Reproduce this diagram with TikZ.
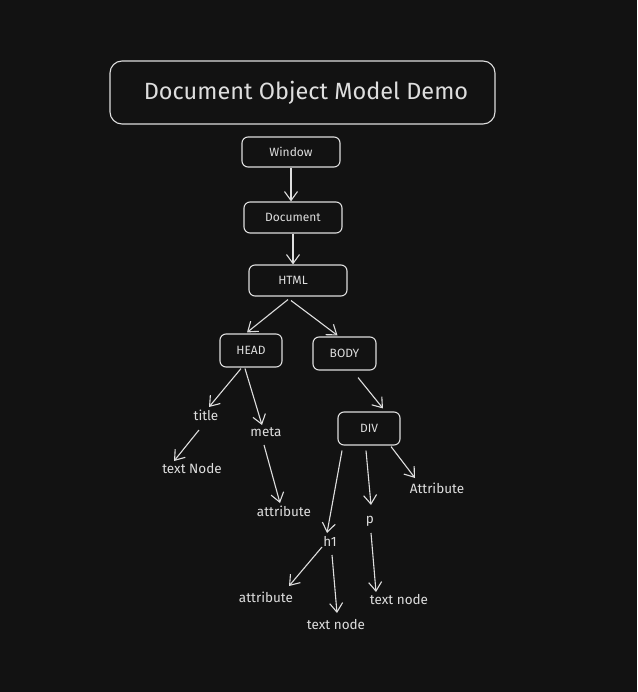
\documentclass[tikz,border=0pt]{standalone}
\usepackage{fontspec}
\setmainfont{Fira Sans}
\usetikzlibrary{arrows.meta}
\definecolor{bg}{HTML}{121212}
\definecolor{ink}{HTML}{DEDEDE}
\begin{document}
\begin{tikzpicture}[x=1pt,y=-1pt,
  box/.style={draw=ink,line width=1.1pt,rounded corners=6pt,text=ink,inner sep=0pt,font=\fontsize{12}{14}\selectfont},
  lbl/.style={text=ink,inner sep=1pt,font=\fontsize{13.5}{16}\selectfont},
  arr/.style={draw=ink,line width=1.1pt,-{Straight Barb[length=9pt,width=13pt,line width=1.1pt]}}]
\fill[bg] (0,0) rectangle (637,692);
\useasboundingbox (0,0) rectangle (637,692);
\node[box,rounded corners=12pt,minimum width=385pt,minimum height=63pt,font=\fontsize{23.5}{28}\selectfont] (main) at (302.5,92.5) {\raisebox{4pt}{\kern7pt Document Object Model Demo}};
\node[box,minimum width=98pt,minimum height=30pt] (window) at (291,152) {Window};
\node[box,minimum width=98pt,minimum height=31pt] (document) at (293,217.5) {Document};
\node[box,minimum width=98pt,minimum height=31pt] (html) at (298,280.5) {\kern-10pt HTML};
\node[box,minimum width=62pt,minimum height=33pt] (head) at (251,350.5) {HEAD};
\node[box,minimum width=63pt,minimum height=33pt] (body) at (344.5,353.5) {BODY};
\node[box,minimum width=62pt,minimum height=33pt] (div) at (369,428.5) {DIV};
\node[lbl] (titlen) at (206,415) {title};
\node[lbl] (meta) at (266,432) {meta};
\node[lbl] (textN) at (192,469) {text Node};
\node[lbl] (attrA) at (284,511) {attribute};
\node[lbl] (attrB) at (437,488) {Attribute};
\node[lbl] (h1) at (330,541) {h1};
\node[lbl] (p) at (370,521) {p};
\node[lbl] (attrC) at (266,597) {attribute};
\node[lbl] (tnA) at (336,625) {text node};
\node[lbl] (tnB) at (399,600) {text node};
\draw[arr] (window.south) -- (window.south |- document.north);
\draw[arr] (document.south) -- (document.south |- html.north);
\draw[arr] ([xshift=-10pt,yshift=-3pt]html.south) -- ([xshift=-4pt,yshift=1pt]head.north);
\draw[arr] ([xshift=-7pt,yshift=-4pt]html.south) -- ([xshift=-7pt,yshift=1pt]body.north);
\draw[arr] ([xshift=13.5pt,yshift=-7pt]body.south) -- ([xshift=14pt,yshift=3pt]div.north);
\draw[arr] ([xshift=-10pt,yshift=-1pt]head.south) -- ([xshift=3pt,yshift=8pt]titlen.center);
\draw[arr] ([xshift=-6pt,yshift=-1pt]head.south) -- ([xshift=-4pt,yshift=7pt]meta.center);
\draw[arr] ([xshift=-7pt,yshift=-15pt]titlen.center) -- ([xshift=-18pt,yshift=8pt]textN.center);
\draw[arr] ([xshift=-2pt,yshift=-13pt]meta.center) -- ([xshift=-4pt,yshift=8pt]attrA.center);
\draw[arr] ([xshift=22pt,yshift=-1pt]div.south) -- ([xshift=-22pt,yshift=10pt]attrB.center);
\draw[arr] ([xshift=-27pt,yshift=-5pt]div.south) -- ([xshift=-3pt,yshift=8pt]h1.center);
\draw[arr] ([xshift=-3pt,yshift=-5pt]div.south) -- ([xshift=1pt,yshift=16pt]p.center);
\draw[arr] ([xshift=-8pt,yshift=-6pt]h1.center) -- ([xshift=23pt,yshift=11pt]attrC.center);
\draw[arr] ([xshift=2pt,yshift=-14pt]h1.center) -- ([xshift=1pt,yshift=12pt]tnA.center);
\draw[arr] ([xshift=1pt,yshift=-12pt]p.center) -- ([xshift=-23pt,yshift=8pt]tnB.center);
\end{tikzpicture}
\end{document}
